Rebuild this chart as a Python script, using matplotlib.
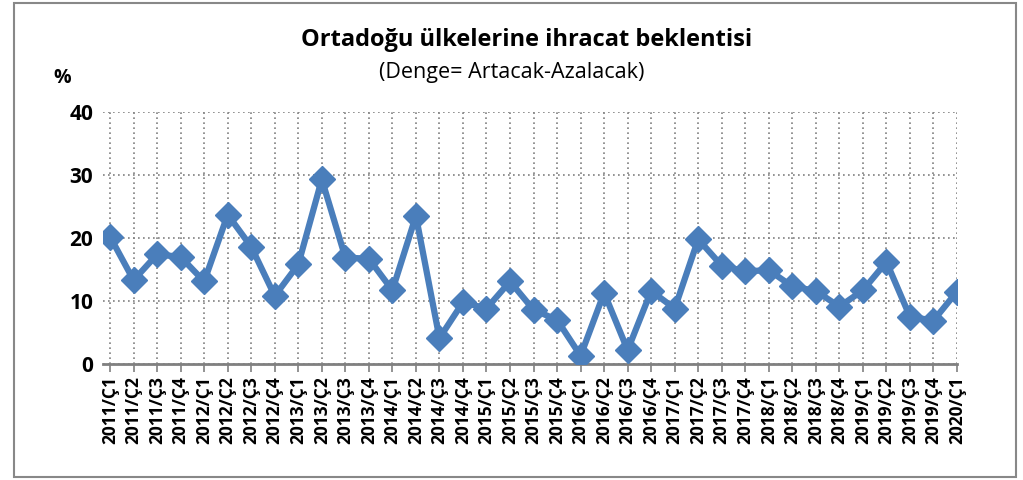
import matplotlib
matplotlib.use('Agg')
import matplotlib.pyplot as plt
from matplotlib.patches import Rectangle

years = [2011, 2012, 2013, 2014, 2015, 2016, 2017, 2018, 2019, 2020]
quarters = ['Ç1', 'Ç2', 'Ç3', 'Ç4']
labels = [f'{y}/{q}' for y in years for q in quarters][:37]

values = [20.2, 13.3, 17.4, 17.0,
          13.1, 23.7, 18.6, 10.8,
          15.8, 29.3, 16.9, 16.7,
          11.7, 23.5, 4.1, 9.8,
          8.8, 13.1, 8.6, 7.0,
          1.3, 11.3, 2.2, 11.6,
          8.8, 19.8, 15.6, 14.7,
          14.9, 12.3, 11.6, 9.1,
          11.7, 16.2, 7.5, 6.9,
          11.5]

title = 'Ortadoğu ülkelerine ihracat beklentisi'
subtitle = '(Denge= Artacak-Azalacak)'

plt.rcParams['font.family'] = ['Open Sans', 'DejaVu Sans']

fig = plt.figure(figsize=(10.23, 4.8), dpi=100)
ax = fig.add_axes([0.1007, 0.2417, 0.8348, 0.525])

x = list(range(len(values)))
ax.plot(x, values, color='#4A7EBB', lw=4.5, marker='D', ms=13,
        markerfacecolor='#4A7EBB', markeredgecolor='#4A7EBB', zorder=3)

ax.set_xlim(-0.3, len(values) - 1)
ax.set_ylim(0, 40)
ax.set_yticks([0, 10, 20, 30, 40])
ax.set_xticks(x)
ax.set_xticklabels(labels, rotation=90, fontsize=12.5, fontweight='bold')
ax.tick_params(axis='y', length=0, labelsize=15, pad=7)
for t in ax.get_yticklabels():
    t.set_fontweight('bold')
ax.tick_params(axis='x', length=6, color='#808080', width=1.2, pad=3)

ax.grid(True, color='#808080', ls=(0, (1, 2)), lw=1.2)
ax.set_axisbelow(True)
for s in ['left', 'right', 'top']:
    ax.spines[s].set_visible(False)
ax.spines['bottom'].set_color('#808080')
ax.spines['bottom'].set_linewidth(2)
ax.spines['bottom'].set_zorder(2)

fig.text(0.515, 0.917, title, ha='center', va='center', fontsize=17, fontweight='bold')
fig.text(0.50, 0.848, subtitle, ha='center', va='center', fontsize=15.5)
fig.text(0.061, 0.838, '%', ha='center', va='center', fontsize=14, fontweight='bold')

fig.patches.append(Rectangle((14 / 1023, 3 / 480), 1002 / 1023, 474 / 480,
                             transform=fig.transFigure, fill=False,
                             edgecolor='#888888', lw=1.5))

fig.savefig('out.png', dpi=100)
